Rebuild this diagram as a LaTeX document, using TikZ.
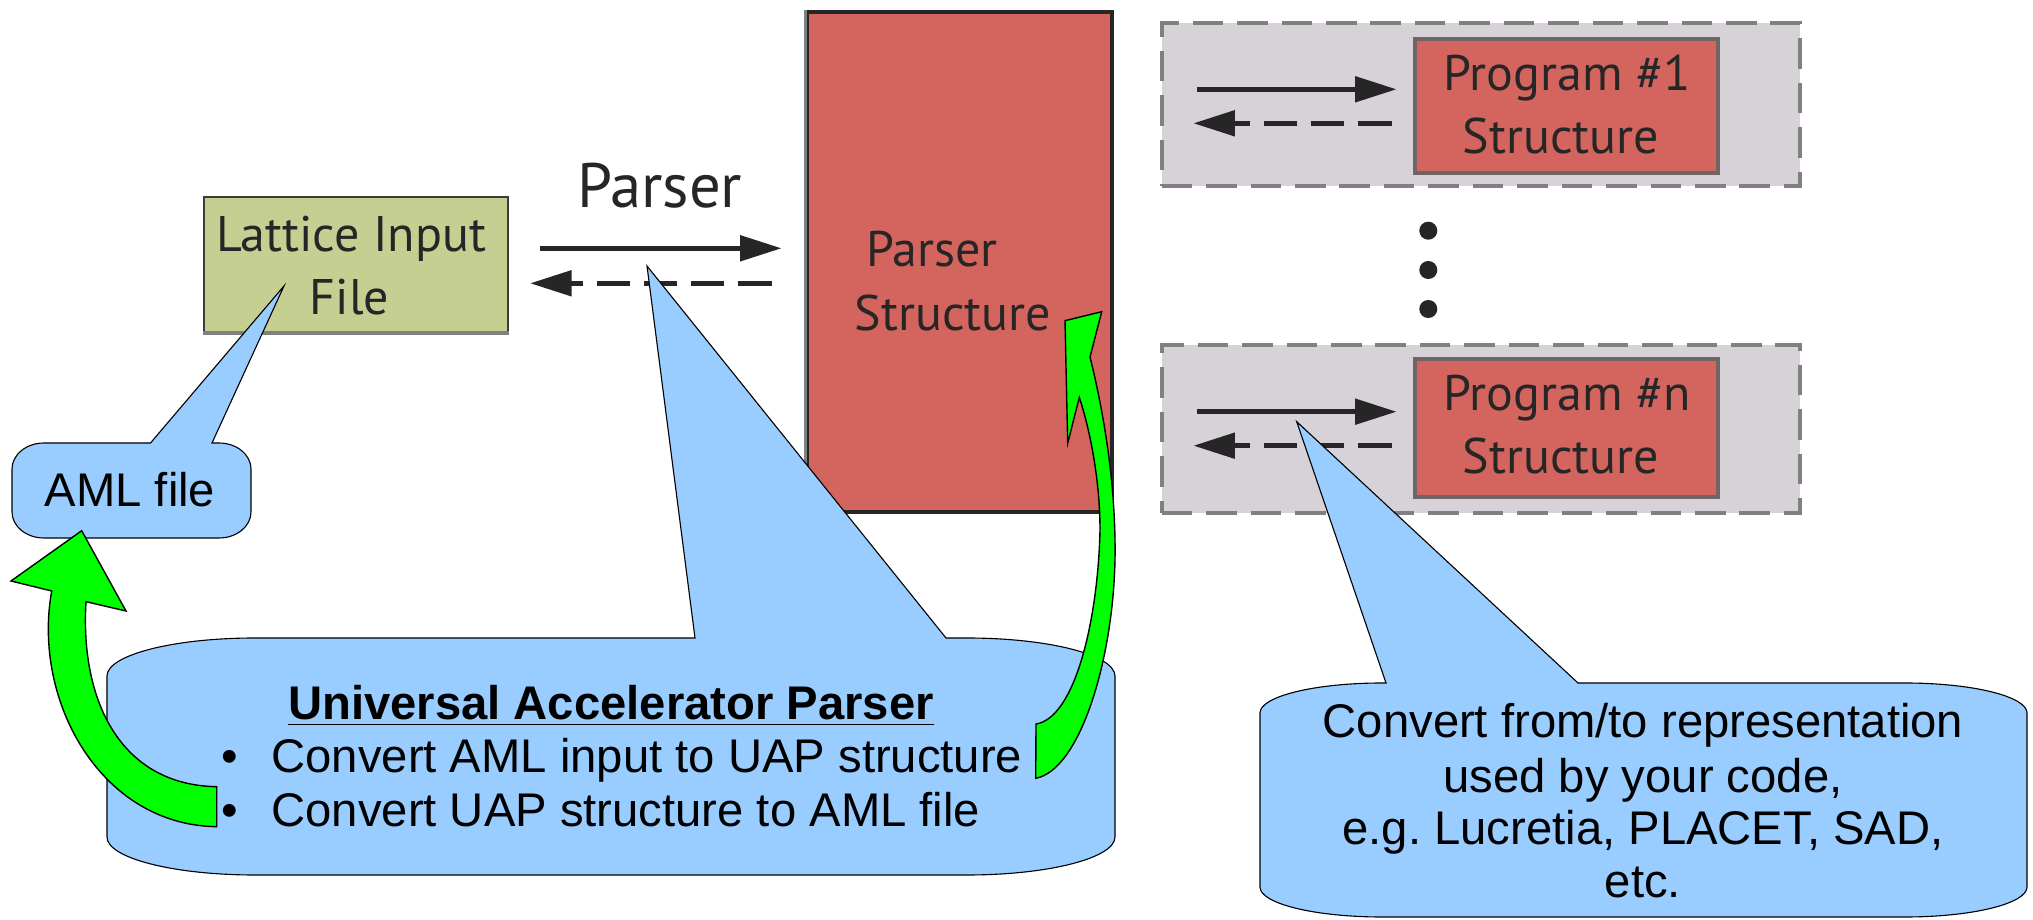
\documentclass[tikz,border=0pt]{standalone}
\usepackage{fontspec}
\newfontfamily\boxfont{PT Sans}
\newfontfamily\callfont{Liberation Sans}
\usetikzlibrary{arrows.meta,fit,calc}
\definecolor{latgreen}{RGB}{197,207,145}
\definecolor{structred}{RGB}{212,101,94}
\definecolor{panelgray}{RGB}{214,210,216}
\definecolor{callblue}{RGB}{153,204,255}
\definecolor{inkgray}{RGB}{38,38,38}
\definecolor{bordergray}{RGB}{128,128,128}
\definecolor{redborder}{RGB}{112,100,100}
\frenchspacing

% rounded callout with a pointed tail on its top edge
% #1 left, #2 top, #3 right, #4 bottom, #5 x-radius, #6 y-radius,
% #7/#8 tail base on top edge, #9 tail tip
\newcommand\bubble[9]{%
  \filldraw[callout] (#7,#2) -- #9 -- (#8,#2) -- ({#3-#5},#2)
    .. controls ({#3-#5+0.5523*#5},#2) and (#3,{#2+#6-0.5523*#6}) .. (#3,{#2+#6})
    -- (#3,{#4-#6})
    .. controls (#3,{#4-#6+0.5523*#6}) and ({#3-#5+0.5523*#5},#4) .. ({#3-#5},#4)
    -- ({#1+#5},#4)
    .. controls ({#1+#5-0.5523*#5},#4) and (#1,{#4-#6+0.5523*#6}) .. (#1,{#4-#6})
    -- (#1,{#2+#6})
    .. controls (#1,{#2+#6-0.5523*#6}) and ({#1+#5-0.5523*#5},#2) .. ({#1+#5},#2)
    -- cycle;}

\begin{document}
\begin{tikzpicture}[x=0.36pt,y=-0.36pt,
  boxtext/.style={font=\boxfont\fontsize{18}{21}\selectfont, text=inkgray, anchor=base, inner sep=0},
  toptext/.style={boxtext, font=\boxfont\fontsize{22.6}{26}\selectfont},
  calltext/.style={font=\callfont\fontsize{17}{20}\selectfont, text=black, anchor=base, inner sep=0},
  flow/.style={draw=inkgray, line width=1.9pt, -{Triangle[length=15pt,width=9pt]}},
  backflow/.style={flow, dash pattern=on 12pt off 5pt},
  callout/.style={fill=callblue, draw=black, line width=0.4pt},
  greenarrow/.style={fill=green, draw=black, line width=0.5pt},
  panel/.style={fill=panelgray, draw=bordergray, line width=1.4pt, dash pattern=on 11pt off 5pt, inner sep=0},
  progbox/.style={fill=structred, draw=redborder, line width=1.5pt, inner sep=0},
  dotnode/.style={circle, fill=inkgray, inner sep=0, minimum size=6.5pt}
]
\useasboundingbox (0,0) rectangle (2033,920);

% program panels
\node[panel, fit={(1161.7,23.3) (1800,186)}] (panel1) {};
\node[panel, fit={(1161.7,345) (1800,512.7)}] (paneln) {};
\node[progbox, fit={(1415,39.3) (1718.3,173.3)}] (prog1) {};
\node[progbox, fit={(1415,359) (1718.3,496.7)}] (progn) {};

% lattice input file
\node[fill=latgreen, draw=inkgray!90, line width=1pt, inner sep=0, fit={(204,197) (508,334)}] (lattice) {};
\draw[bordergray, line width=1.6pt] ($(lattice.south west)+(0,-2.5)$) -- ($(lattice.south east)+(0,-2.5)$);

% parser structure
\node[fill=structred, draw=inkgray, line width=1.1pt, inner sep=0, fit={(807,12) (1112,512)}] (parser) {};
\draw[bordergray, line width=1.1pt] (parser.south west) -- (parser.north west);

% texts in boxes
\node[boxtext] (lat1) at (351,251.7) {Lattice Input};
\node[boxtext] (lat2) at (349.5,315) {File};
\node[toptext] (plabel) at (659.7,207.3) {Parser};
\node[boxtext] (ps1) at (932,267) {Parser};
\node[boxtext] (ps2) at (953,331) {Structure};
\node[boxtext] (p1a) at (1567,90.7) {Program \#1};
\node[boxtext] (p1b) at (1561,154) {Structure};
\node[boxtext] (pna) at (1567,410.7) {Program \#n};
\node[boxtext] (pnb) at (1561,474) {Structure};

% exchange arrows
\coordinate (la) at (540,248.3);   \coordinate (lb) at (781.7,248.3);
\coordinate (lc) at (771.7,283.3); \coordinate (ld) at (530,283.3);
\draw[flow] (la) -- (lb);
\draw[backflow] (lc) -- (ld);
\coordinate (qa) at (1196.7,89.3);  \coordinate (qb) at (1396.7,89.3);
\coordinate (qc) at (1391.7,123.3); \coordinate (qd) at (1193.3,123.3);
\draw[flow] (qa) -- (qb);
\draw[backflow] (qc) -- (qd);
\coordinate (ra) at (1196.7,411.7);  \coordinate (rb) at (1396.7,411.7);
\coordinate (rc) at (1391.7,445.7); \coordinate (rd) at (1193.3,445.7);
\draw[flow] (ra) -- (rb);
\draw[backflow] (rc) -- (rd);

% ellipsis between panels
\node[dotnode] (d1) at (1428.3,230.7) {};
\node[dotnode] (d2) at (1428.3,270) {};
\node[dotnode] (d3) at (1428.3,309) {};

% callouts
\coordinate (tipaml) at (284,286);
\coordinate (tipuap) at (647,266);
\coordinate (tipcode) at (1296.7,421.7);
\bubble{12}{443}{251}{538}{32}{26}{150.5}{212}{(tipaml)}
\bubble{107}{638}{1115}{875}{148}{38}{695}{946}{(tipuap)}
\bubble{1260}{683}{2027}{917}{122}{30}{1386}{1578}{(tipcode)}

\node[calltext] (aml) at (130,507) {AML file};
\node[calltext] (uapt) at (611,720) {\underline{\textbf{Universal Accelerator Parser}}};
\node[calltext] (b1) at (229.3,773) {•};
\node[calltext] (b2) at (229.3,827) {•};
\node[calltext, anchor=base west] (u1) at (271,773) {Convert AML input to UAP structure};
\node[calltext, anchor=base west] (u2) at (271,827) {Convert UAP structure to AML file};
\node[calltext] (c1) at (1643,738) {Convert from/to representation};
\node[calltext] (c2) at (1643,793) {used by your code,};
\node[calltext] (c3) at (1643,845) {e.g. Lucretia, PLACET, SAD,};
\node[calltext] (c4) at (1643,898) {etc.};

% green curved arrows
\filldraw[greenarrow] (81.7,530.7) -- (126,611) -- (86,601.7)
  .. controls (80,700) and (120,785) .. (216.7,786.7)
  -- (216.7,826.7)
  .. controls (100,825) and (32,700) .. (51.7,591)
  -- (11,581) -- cycle;
\filldraw[greenarrow] (1065,320.7) -- (1101.7,311.7) -- (1090,357)
  .. controls (1108,430) and (1116,500) .. (1115,560)
  .. controls (1113,660) and (1080,770) .. (1035.7,778.3)
  -- (1036,724)
  .. controls (1075,718) and (1098,620) .. (1100,530)
  .. controls (1100,480) and (1090,430) .. (1079.3,397.3)
  -- (1067.7,443.3) -- cycle;
\end{tikzpicture}
\end{document}
